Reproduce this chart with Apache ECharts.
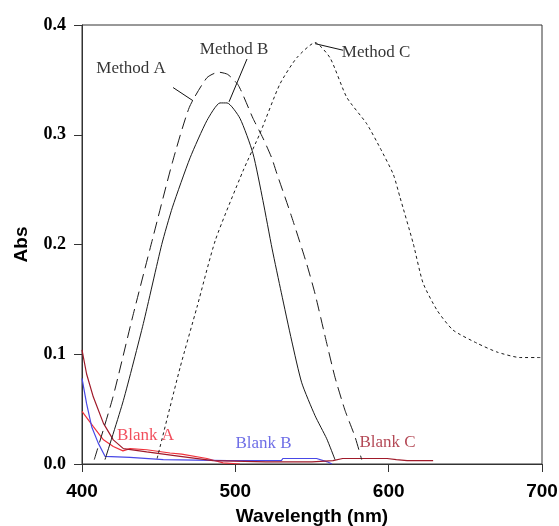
<!DOCTYPE html>
<html>
<head>
<meta charset="utf-8">
<script src="https://cdn.jsdelivr.net/npm/echarts@6/dist/echarts.min.js"></script>
<style>
html,body{margin:0;padding:0;background:#fff;}
#chart{width:559px;height:526px;}
</style>
</head>
<body>
<div id="chart"></div>
<script>
// ---- data ----
const xTicks = [400, 500, 600, 700];
const yTicks = [0.0, 0.1, 0.2, 0.3, 0.4];

const methodA_x = [408, 420, 433, 446, 459, 470, 481.5, 489, 495, 502, 511.5, 518, 523.7, 527, 536.8, 546.6, 552, 559.6, 565, 571.5, 578, 582.4];
const methodA_y = [0.004, 0.060, 0.134, 0.205, 0.275, 0.325, 0.352, 0.357, 0.355, 0.345, 0.315, 0.297, 0.279, 0.265, 0.225, 0.182, 0.155, 0.110, 0.079, 0.049, 0.025, 0.004];

const methodB_x = [415, 427, 440, 452, 459, 470.5, 481.5, 490, 494.6, 503, 511.5, 518, 524, 530, 536.8, 543.3, 552, 559.6, 565];
const methodB_y = [0.004, 0.058, 0.128, 0.200, 0.234, 0.279, 0.313, 0.329, 0.329, 0.315, 0.283, 0.240, 0.196, 0.156, 0.112, 0.074, 0.044, 0.023, 0.004];

const methodC_x = [449, 464, 475, 487, 505, 516, 529, 540, 552, 561.8, 572.7, 585.7, 594.4, 603, 607.4, 616, 622.4, 631.6, 642, 657.7, 670.7, 685.7, 699];
const methodC_y = [0.005, 0.088, 0.143, 0.204, 0.267, 0.301, 0.346, 0.370, 0.384, 0.370, 0.334, 0.310, 0.288, 0.264, 0.243, 0.201, 0.165, 0.140, 0.122, 0.110, 0.102, 0.097, 0.097];

const blankA_x = [400, 407.4, 414, 420.4, 426.7, 431.3, 442.2, 457.4, 465, 481.5, 492, 503];
const blankA_y = [0.048, 0.034, 0.022, 0.016, 0.012, 0.014, 0.013, 0.010, 0.009, 0.005, 0.001, 0.000];

const blankB_x = [400, 403, 406.3, 410.6, 415, 431.3, 453, 495, 530, 531, 553, 560, 563];
const blankB_y = [0.078, 0.055, 0.034, 0.019, 0.007, 0.006, 0.004, 0.003, 0.003, 0.005, 0.005, 0.002, 0.000];

const blankC_x = [400, 403, 407.4, 414, 420.4, 427, 442.2, 464, 485.5, 520, 550, 563.7, 570, 581, 599, 605, 612, 629];
const blankC_y = [0.104, 0.082, 0.061, 0.037, 0.022, 0.014, 0.011, 0.007, 0.003, 0.002, 0.002, 0.003, 0.005, 0.005, 0.005, 0.004, 0.003, 0.003];

const labelTexts = ['Method A', 'Method B', 'Method C', 'Blank A', 'Blank B', 'Blank C'];

// ---- annotation placement (data coordinates) ----
const labelAnchors = [[432, 0.360], [499.2, 0.378], [591.8, 0.3745], [441.4, 0.026], [518.4, 0.019], [599.3, 0.020]];
const labelColors = ['#000', '#000', '#000', '#ee2233', '#4a4ae0', '#a01a2a'];
const leaders = [
  [[459.4, 0.343], [472.4, 0.331]],
  [[507.6, 0.369], [495.9, 0.330]],
  [[552, 0.383], [570.3, 0.377]]
];

function pairs(xs, ys) { return xs.map((x, i) => [x, ys[i]]); }

const chart = echarts.init(document.getElementById('chart'), null, {renderer: 'canvas'});

function lineSeries(name, xs, ys, color, type, width) {
  return {
    name: name, type: 'line', data: pairs(xs, ys), symbol: 'none', smooth: 0.2,
    lineStyle: {color: color, width: width, type: type}, z: 3, animation: false
  };
}

const option = {
  animation: false,
  backgroundColor: '#fff',
  grid: {left: 82, right: 17, top: 25, bottom: 62, outerBoundsMode: 'none', containLabel: false,
         show: true, borderColor: '#333', borderWidth: 1, backgroundColor: 'transparent'},
  xAxis: {
    type: 'value', min: 400, max: 700, interval: 100,
    axisLine: {show: true, onZero: false, lineStyle: {color: '#333', width: 1}},
    axisTick: {show: true, length: 8, lineStyle: {color: '#333'}},
    splitLine: {show: false},
    axisLabel: {
      color: '#000', fontFamily: '"Liberation Sans Narrow", "Arial Narrow", "Liberation Sans", Arial, sans-serif',
      fontWeight: 'bold', fontSize: 19, margin: 18,
      formatter: v => xTicks.includes(v) ? String(v) : ''
    },
    name: 'Wavelength (nm)', nameLocation: 'middle', nameGap: 43,
    nameTextStyle: {color: '#000', fontFamily: '"Liberation Sans", Arial, sans-serif', fontWeight: 'bold', fontSize: 19}
  },
  yAxis: {
    type: 'value', min: 0, max: 0.4, interval: 0.1,
    axisLine: {show: true, onZero: false, lineStyle: {color: '#333', width: 1}},
    axisTick: {show: true, length: 8, lineStyle: {color: '#333'}},
    splitLine: {show: false},
    axisLabel: {
      color: '#000', fontFamily: '"Liberation Serif", "Times New Roman", serif',
      fontWeight: 'bold', fontSize: 18, margin: 16,
      formatter: v => {
        const t = yTicks.find(k => Math.abs(k - v) < 1e-9);
        return t === undefined ? '' : t.toFixed(1);
      }
    },
    name: 'Abs', nameLocation: 'middle', nameGap: 51,
    nameTextStyle: {color: '#000', fontFamily: '"Liberation Sans", Arial, sans-serif', fontWeight: 'bold', fontSize: 19}
  },
  series: [
    lineSeries('Method A', methodA_x, methodA_y, '#1a1a1a', [12, 6], 1),
    lineSeries('Method B', methodB_x, methodB_y, '#1a1a1a', 'solid', 1),
    lineSeries('Method C', methodC_x, methodC_y, '#1a1a1a', [3, 3], 1),
    {name: 'Blank A', type: 'line', data: pairs(blankA_x, blankA_y), symbol: 'none', lineStyle: {color: '#f0303a', width: 1.2}, z: 2},
    {name: 'Blank B', type: 'line', data: pairs(blankB_x, blankB_y), symbol: 'none', lineStyle: {color: '#4848e6', width: 1.2}, z: 2},
    {name: 'Blank C', type: 'line', data: pairs(blankC_x, blankC_y), symbol: 'none', lineStyle: {color: '#a01a2a', width: 1.2}, z: 2},
    {
      name: 'leaders', type: 'lines', coordinateSystem: 'cartesian2d', polyline: false,
      data: leaders.map(c => ({coords: c})),
      lineStyle: {color: '#111', width: 1, opacity: 1}, z: 4, silent: true
    },
    {
      name: 'labels', type: 'scatter', symbolSize: 0, silent: true, z: 5,
      data: labelTexts.map((t, i) => ({
        value: [labelAnchors[i][0], labelAnchors[i][1], t],
        label: {
          show: true, position: 'inside', formatter: t, color: labelColors[i],
          fontFamily: '"Liberation Serif", "Times New Roman", serif', fontSize: 17
        }
      }))
    }
  ]
};
chart.setOption(option);
</script>
</body>
</html>
